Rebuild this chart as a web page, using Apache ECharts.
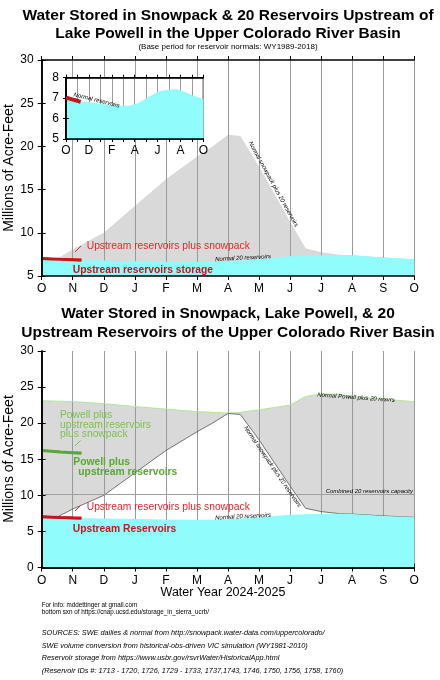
<!DOCTYPE html>
<html>
<head>
<meta charset="utf-8">
<script src="https://cdn.jsdelivr.net/npm/echarts@6/dist/echarts.min.js"></script>
<style>
  html, body { margin: 0; padding: 0; background: #fff; }
  #chart { width: 440px; height: 680px; }
</style>
</head>
<body>
<div id="chart"></div>
<script>
// month ticks, Oct 1 = 0
const monthLabels = ['O', 'N', 'D', 'J', 'F', 'M', 'A', 'M', 'J', 'J', 'A', 'S', 'O'];

// normals (millions of acre-feet), x in months since Oct 1
const normX        = [0, 0.5, 1, 2, 3, 4, 5, 5.5, 6, 6.4, 7, 8, 8.5, 9, 9.6, 10, 11, 12];
const normResv     = [6.92, 6.89, 6.85, 6.8, 6.72, 6.66, 6.63, 6.63, 6.7, 6.78, 6.98, 7.3, 7.37, 7.41, 7.44, 7.4, 7.15, 6.95];
const normSnowResv = [6.92, 7.0, 8.1, 10.0, 13.1, 16.2, 18.8, 20.0, 21.35, 21.2, 17.7, 11.3, 8.2, 7.75, 7.46, 7.4, 7.15, 6.95];
const normPowell   = [23.1, 23.05, 23.0, 22.7, 22.3, 21.95, 21.6, 21.5, 21.4, 21.5, 21.85, 22.5, 23.7, 24.05, 24.0, 23.7, 23.3, 23.0];
const capacity = 10.2;

// water year 2024-2025 so far
const curX          = [0, 0.3, 0.6, 1, 1.28];
const curResv       = [7.03, 6.98, 6.93, 6.87, 6.82];
const curResvSnow   = [7.06, 7.01, 6.97, 6.92, 6.9];
const curPowell     = [16.2, 16.1, 16.0, 15.9, 15.82];
const curPowellSnow = [16.23, 16.13, 16.05, 15.97, 15.92];

const FONT = 'Liberation Sans, Arial, Helvetica, sans-serif';
const pairs = (xs, ys) => xs.map((x, i) => [x, ys[i]]);

const chart = echarts.init(document.getElementById('chart'));

function xBottom(grid, z, labelEvery, fs, tick) {
    return {
        type: 'value', gridIndex: grid, position: 'bottom', min: 0, max: 12, interval: 1, z: z,
        axisLine: { lineStyle: { color: '#000', width: 1.5 } },
        axisTick: { length: tick, lineStyle: { color: '#000' } },
        axisLabel: {
            color: '#000', fontSize: fs, fontFamily: FONT, margin: tick + 3,
            formatter: v => (v % labelEvery === 0 ? monthLabels[v] : '')
        },
        splitLine: { show: false }
    };
}
function xTop(grid, z, tick) {
    return {
        type: 'value', gridIndex: grid, position: 'top', min: 0, max: 12, interval: 1, z: z,
        axisLine: { lineStyle: { color: '#000', width: 1.5 } },
        axisTick: { length: tick, lineStyle: { color: '#000' } },
        axisLabel: { show: false },
        splitLine: { show: true, lineStyle: { color: '#9a9a9a', width: 1 } }
    };
}
function yAxis(grid, pos, min, max, interval, z, tick, labels) {
    return {
        type: 'value', gridIndex: grid, position: pos, min: min, max: max, interval: interval, z: z,
        axisLine: { show: true, lineStyle: { color: '#000', width: 1.5 } },
        axisTick: { show: true, length: tick, lineStyle: { color: '#000' } },
        axisLabel: { show: labels, color: '#000', fontSize: 12, fontFamily: FONT, margin: tick + 4 },
        splitLine: { show: false }
    };
}
function area(x, y, yi, data, color, z) {
    return {
        type: 'line', xAxisIndex: x, yAxisIndex: yi, data: data, symbol: 'none', z: z, silent: true,
        lineStyle: { width: 0 }, areaStyle: { color: color, opacity: 1, origin: 'start' }
    };
}
function line(x, yi, data, color, width, z) {
    return {
        type: 'line', xAxisIndex: x, yAxisIndex: yi, data: data, symbol: 'none', z: z, silent: true,
        lineStyle: { color: color, width: width }
    };
}
function txt(x, y, text, opt) {
    opt = opt || {};
    return {
        type: 'text', x: x, y: y, z: 100, rotation: opt.rot || 0, silent: true,
        style: {
            text: text, fill: opt.color || '#000',
            fontSize: opt.size || 10, fontFamily: FONT,
            fontWeight: opt.bold ? 'bold' : 'normal', fontStyle: opt.italic ? 'italic' : 'normal',
            align: opt.align || 'left', verticalAlign: 'middle',
            textAlign: opt.align || 'left', textVerticalAlign: 'middle'
        }
    };
}
function tickMark(x1, y1, x2, y2, color) {
    return { type: 'line', z: 100, silent: true, shape: { x1: x1, y1: y1, x2: x2, y2: y2 }, style: { stroke: color, lineWidth: 1 } };
}

const deg = Math.PI / 180;
const redThin = '#e3262b', redBold = '#c4161c', greenThin = '#7cc24a', greenBold = '#58a832';

const option = {
    animation: false,
    backgroundColor: '#fff',
    grid: [
        { left: 41.7, top: 60, width: 372.5, height: 216 },
        { left: 66, top: 77.7, width: 137.3, height: 61.3, show: true, backgroundColor: '#fff', borderColor: '#000', borderWidth: 1.2, z: 20 },
        { left: 41.7, top: 351, width: 372.5, height: 216.5 }
    ],
    xAxis: [
        xBottom(0, 7, 1, 12, 4),
        xTop(0, 3, 4),
        xBottom(1, 23, 2, 12, 3),
        xTop(1, 21, 3),
        xBottom(2, 7, 1, 12, 4),
        xTop(2, 3, 4)
    ],
    yAxis: [
        yAxis(0, 'left', 5, 30, 5, 7, 4, true),
        yAxis(0, 'right', 5, 30, 5, 7, 4, false),
        yAxis(1, 'left', 5, 8, 1, 23, 3, true),
        yAxis(1, 'right', 5, 8, 1, 23, 3, false),
        yAxis(2, 'left', 0, 30, 5, 7, 4, true),
        yAxis(2, 'right', 0, 30, 5, 7, 4, false)
    ],
    series: [
        // top chart
        area(0, 0, 0, pairs(normX, normSnowResv), '#d9d9d9', 1),
        area(0, 0, 0, pairs(normX, normResv), '#90fcfc', 5),
        line(0, 0, pairs(curX, curResvSnow), redThin, 2, 6),
        line(0, 0, pairs(curX, curResv), redBold, 3, 6),
        // inset
        area(2, 2, 2, pairs(normX, normResv), '#90fcfc', 22),
        line(2, 2, pairs(curX, curResv), redBold, 4, 24),
        // bottom chart
        area(4, 4, 4, pairs(normX, normPowell), '#d9d9d9', 1),
        line(4, 4, pairs(normX, normPowell), '#b4e69a', 1, 4),
        area(4, 4, 4, pairs(normX, normSnowResv), '#ffffff', 2),
        Object.assign(line(4, 4, pairs(normX, normSnowResv), '#555', 0.8, 4), {
            markLine: {
                silent: true, symbol: 'none', label: { show: false },
                lineStyle: { color: '#a0a0a0', width: 1, type: 'solid' },
                data: [{ yAxis: capacity }]
            }
        }),
        area(4, 4, 4, pairs(normX, normResv), '#90fcfc', 5),
        line(4, 4, pairs(curX, curPowellSnow), greenThin, 2, 6),
        line(4, 4, pairs(curX, curPowell), greenBold, 3, 6),
        line(4, 4, pairs(curX, curResvSnow), redThin, 2, 6),
        line(4, 4, pairs(curX, curResv), redBold, 3, 6)
    ],
    graphic: [
        txt(228, 16, 'Water Stored in Snowpack & 20 Reservoirs Upstream of', { size: 15.5, bold: true, align: 'center' }),
        txt(228, 34, 'Lake Powell in the Upper Colorado River Basin', { size: 15.5, bold: true, align: 'center' }),
        txt(228, 46.5, '(Base period for reservoir normals: WY1989-2018)', { size: 8, align: 'center' }),
        txt(228, 314, 'Water Stored in Snowpack, Lake Powell, & 20', { size: 15.5, bold: true, align: 'center' }),
        txt(228, 333, 'Upstream Reservoirs of the Upper Colorado River Basin', { size: 15.5, bold: true, align: 'center' }),

        txt(9, 168, 'Millions of Acre-Feet', { size: 14, align: 'center', rot: 90 * deg }),
        txt(9, 459, 'Millions of Acre-Feet', { size: 14, align: 'center', rot: 90 * deg }),
        txt(223, 593, 'Water Year 2024-2025', { size: 12.5, align: 'center' }),

        // top chart notes
        txt(86.7, 246, 'Upstream reservoirs plus snowpack', { size: 10.3, color: redThin }),
        txt(72.7, 270, 'Upstream reservoirs storage', { size: 10.3, bold: true, color: redBold }),
        tickMark(75, 252, 81, 246, redThin),
        txt(243, 258, 'Normal 20 reservoirs', { size: 6, italic: true, align: 'center', rot: 3 * deg }),
        txt(273.3, 184.2, 'Normal snowpack plus 20 reservoirs', { size: 6, italic: true, align: 'center', rot: -61 * deg }),
        txt(96.7, 100.3, 'Normal reservoirs', { size: 6, italic: true, align: 'center', rot: -14 * deg }),

        // bottom chart notes
        txt(60, 415, 'Powell plus', { size: 10.3, color: greenThin }),
        txt(60, 425, 'upstream reservoirs', { size: 10.3, color: greenThin }),
        txt(60, 434.5, 'plus snowpack', { size: 10.3, color: greenThin }),
        tickMark(75, 446, 80.5, 440.5, greenThin),
        txt(73.3, 462, 'Powell plus', { size: 10.3, bold: true, color: greenBold }),
        txt(78.3, 472, 'upstream reservoirs', { size: 10.3, bold: true, color: greenBold }),
        txt(86.7, 507, 'Upstream reservoirs plus snowpack', { size: 10.3, color: redThin }),
        tickMark(75, 511, 80.5, 505.5, redThin),
        txt(72.7, 529, 'Upstream Reservoirs', { size: 10.3, bold: true, color: redBold }),
        txt(243, 516.5, 'Normal 20 reservoirs', { size: 6, italic: true, align: 'center', rot: 3 * deg }),
        txt(272.5, 466.7, 'Normal snowpack plus 20 reservoirs', { size: 6, italic: true, align: 'center', rot: -55.5 * deg }),
        txt(356, 397.5, 'Normal Powell plus 20 resvrs', { size: 6, italic: true, align: 'center', rot: -4 * deg }),
        txt(413, 491.5, 'Combined 20 reservoirs capacity', { size: 6, italic: true, align: 'right' }),

        // footer
        txt(41.7, 605, 'For info: mddettinger at gmail.com', { size: 6.3 }),
        txt(41.7, 612.3, 'bottom sxn of https://cnap.ucsd.edu/storage_in_sierra_ucrb/', { size: 6.3 }),
        txt(41.7, 633.3, 'SOURCES: SWE dailies & normal from http://snowpack.water-data.com/uppercolorado/', { size: 7.3, italic: true }),
        txt(41.7, 645.7, 'SWE volume conversion from historical-obs-driven VIC simulation (WY1981-2010)', { size: 7.3, italic: true }),
        txt(41.7, 658.3, 'Reservoir storage from https://www.usbr.gov/rsvrWater/HistoricalApp.html', { size: 7.3, italic: true }),
        txt(41.7, 670.7, '(Reservoir IDs #: 1713 - 1720, 1726, 1729 - 1733, 1737,1743, 1746, 1750, 1756, 1758, 1760)', { size: 7.3, italic: true })
    ]
};

chart.setOption(option);
window.addEventListener('resize', () => chart.resize());
</script>
</body>
</html>
